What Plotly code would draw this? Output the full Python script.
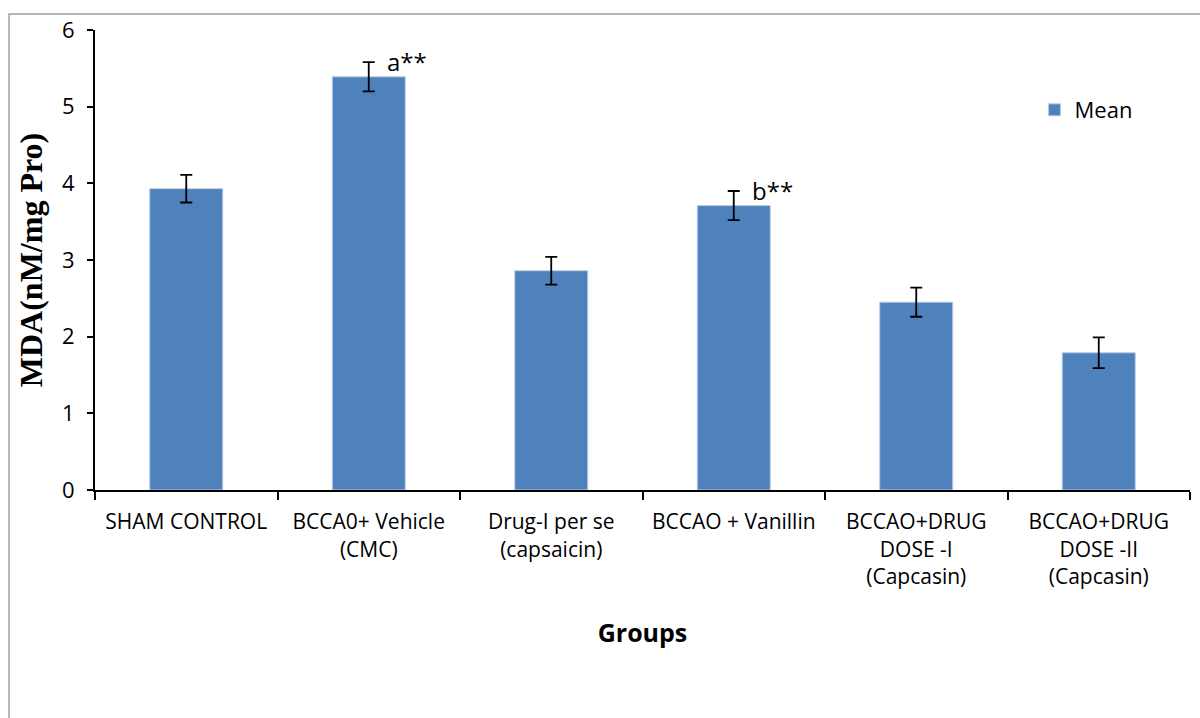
import plotly.graph_objects as go

categories = ["SHAM CONTROL", "BCCA0+ Vehicle<br>(CMC)", "Drug-I per se<br>(capsaicin)",
              "BCCAO + Vanillin", "BCCAO+DRUG<br>DOSE -I<br>(Capcasin)", "BCCAO+DRUG<br>DOSE -II<br>(Capcasin)"]
means = [3.93, 5.39, 2.86, 3.71, 2.45, 1.79]
errors = [0.18, 0.19, 0.18, 0.19, 0.19, 0.20]
sig_labels = ["", "a**", "", "b**", "", ""]
yticks = [0, 1, 2, 3, 4, 5, 6]

fig = go.Figure()
fig.add_trace(go.Bar(
    x=categories, y=means, name="Mean",
    marker=dict(color="#4F81BD", line=dict(color="#B9CDE5", width=1)),
    error_y=dict(type="data", array=errors, visible=True, color="black", thickness=1.8, width=6),
    width=0.4,
))

for c, m, e, s in zip(categories, means, errors, sig_labels):
    if s:
        fig.add_annotation(x=c, y=m + e, text=s, showarrow=False, xanchor="left", yanchor="bottom",
                           xshift=16, yshift=-18, font=dict(size=24, color="black", family="Open Sans"))

fig.add_shape(type="path", xref="paper", yref="paper",
              path="M -0.0785 -0.7 L -0.0785 1.035 L 1.2 1.035",
              line=dict(color="#A0A0A0", width=1.5))

fig.update_layout(
    width=1200, height=718,
    margin=dict(l=95, r=10, t=30, b=228, autoexpand=False),
    plot_bgcolor="white", paper_bgcolor="white",
    font=dict(family="Open Sans", color="black"),
    bargap=0.6,
    showlegend=True,
    legend=dict(x=0.858, y=0.826, xanchor="left", yanchor="middle", font=dict(size=22),
                bgcolor="rgba(0,0,0,0)", itemwidth=30),
    xaxis=dict(
        showline=True, linecolor="black", linewidth=2, automargin=False,
        ticks="outside", ticklen=8, tickwidth=1.5, tickcolor="black", tickangle=0,
        tickson="boundaries", tickfont=dict(size=21, family="Open Sans"), ticklabelstandoff=12,
        title=dict(text="<b>Groups</b>", font=dict(size=25, family="Open Sans"), standoff=36),
    ),
    yaxis=dict(
        range=[0, 6], tickvals=yticks, showline=True, linecolor="black", linewidth=2, automargin=False,
        ticks="outside", ticklen=6, tickwidth=1.5, tickcolor="black", showgrid=False,
        tickfont=dict(size=22, family="Open Sans"), zeroline=False, ticklabelstandoff=8,
        title=dict(text="<b>MDA(nM/mg Pro)</b>", font=dict(size=32, family="Liberation Serif"), standoff=10),
    ),
)

fig.write_html("out.html")
